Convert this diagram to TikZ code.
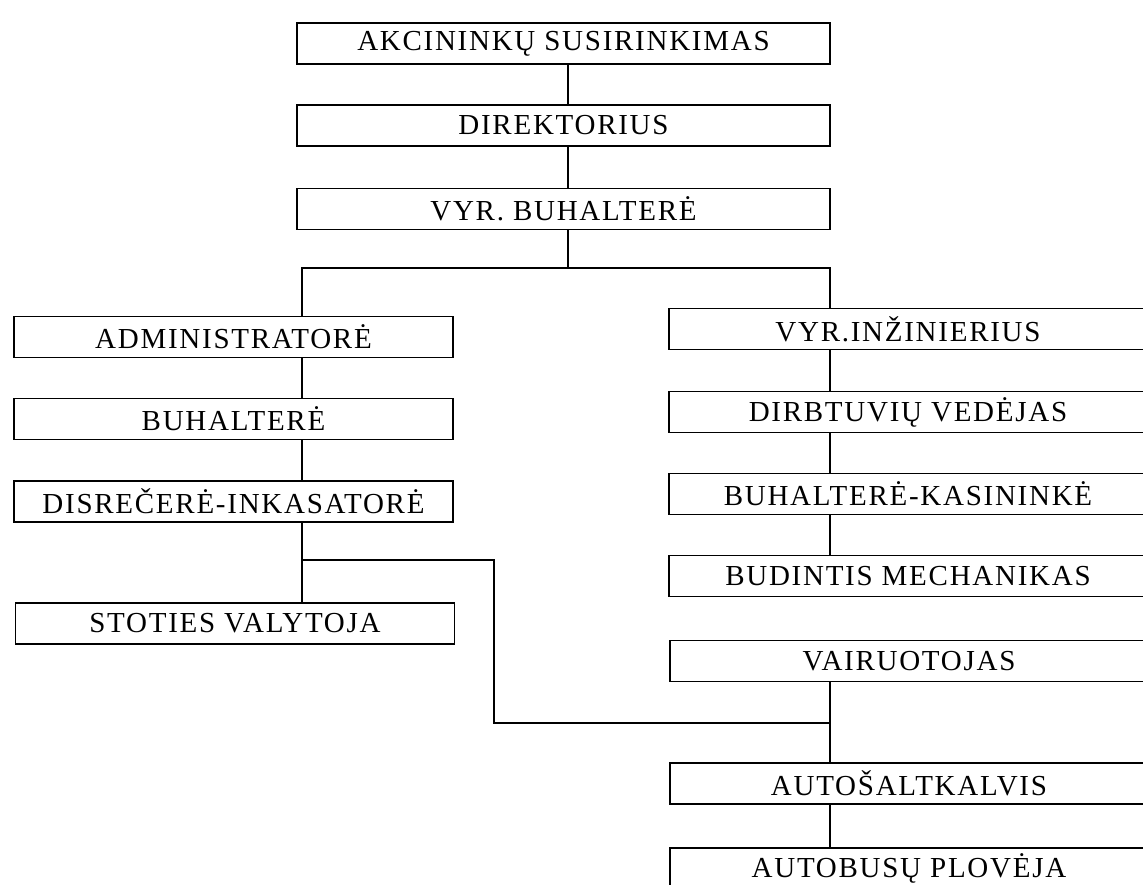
\documentclass[tikz,border=0pt]{standalone}
\usepackage{fontspec}
\setmainfont{Liberation Serif}[LetterSpace=6]
\begin{document}
\begin{tikzpicture}[x=0.02cm,y=-0.02cm]

      \useasboundingbox (0,0) rectangle (1143,885);

      \coordinate (midx)   at (568,0);
      \coordinate (leftx)  at (302,0);
      \coordinate (rightx) at (830,0);

      \begin{scope}[every node/.style={rectangle,draw,line width=1pt,inner sep=0pt,
          minimum width=10.66cm,minimum height=0.82cm,font=\fontsize{16.5}{19}\selectfont}]
        \node (akc)  at (563.5,43.5) {AKCININKŲ SUSIRINKIMAS};
        \node (dir)  at (563.5,125.5) {DIREKTORIUS};
        \node (vbuh) at (563.5,209)  {VYR. BUHALTERĖ};
      \end{scope}

      \begin{scope}[every node/.style={rectangle,draw,line width=1pt,inner sep=0pt,
          minimum width=8.78cm,minimum height=0.82cm,font=\fontsize{16.5}{19}\selectfont}]
        \node (adm)   at (233.5,337)   {ADMINISTRATORĖ};
        \node (buh)   at (233.5,419)   {BUHALTERĖ};
        \node (disp)  at (233.5,501.5) {DISREČERĖ-INKASATORĖ};
        \node (valyt) at (235,623.5)   {STOTIES VALYTOJA};
      \end{scope}

      \begin{scope}[every node/.style={rectangle,draw,line width=1pt,inner sep=0pt,
          minimum width=9.56cm,minimum height=0.82cm,font=\fontsize{16.5}{19}\selectfont}]
        \node (inz)   at (908,329)   {VYR.INŽINIERIUS};
        \node (dirbt) at (908,412)   {DIRBTUVIŲ VEDĖJAS};
        \node (kas)   at (908,494)   {BUHALTERĖ-KASININKĖ};
        \node (mech)  at (908,576)   {BUDINTIS MECHANIKAS};
        \node (vair)  at (909,661)   {VAIRUOTOJAS};
        \node (salt)  at (909,783.5) {AUTOŠALTKALVIS};
        \node (plov)  at (909,868.5) {AUTOBUSŲ PLOVĖJA};
      \end{scope}

      \coordinate (fork)  at (568,268);
      \coordinate (split) at (302,560);
      \coordinate (turn)  at (494,560);
      \coordinate (join)  at (830,723);

      \begin{scope}[line width=0.9pt]
        \draw (midx |- akc.south) -- (midx |- dir.north);
        \draw (midx |- dir.south) -- (midx |- vbuh.north);
        \draw (midx |- vbuh.south) -- (fork);
        \draw (leftx |- adm.north) |- (fork) -| (rightx |- inz.north);

        \draw (leftx |- adm.south)  -- (leftx |- buh.north);
        \draw (leftx |- buh.south)  -- (leftx |- disp.north);
        \draw (leftx |- disp.south) -- (leftx |- valyt.north);
        \draw (split) -- (turn) |- (join);

        \draw (rightx |- inz.south)   -- (rightx |- dirbt.north);
        \draw (rightx |- dirbt.south) -- (rightx |- kas.north);
        \draw (rightx |- kas.south)   -- (rightx |- mech.north);
        \draw (rightx |- vair.south)  -- (rightx |- salt.north);
        \draw (rightx |- salt.south)  -- (rightx |- plov.north);
      \end{scope}

    \end{tikzpicture}
\end{document}
